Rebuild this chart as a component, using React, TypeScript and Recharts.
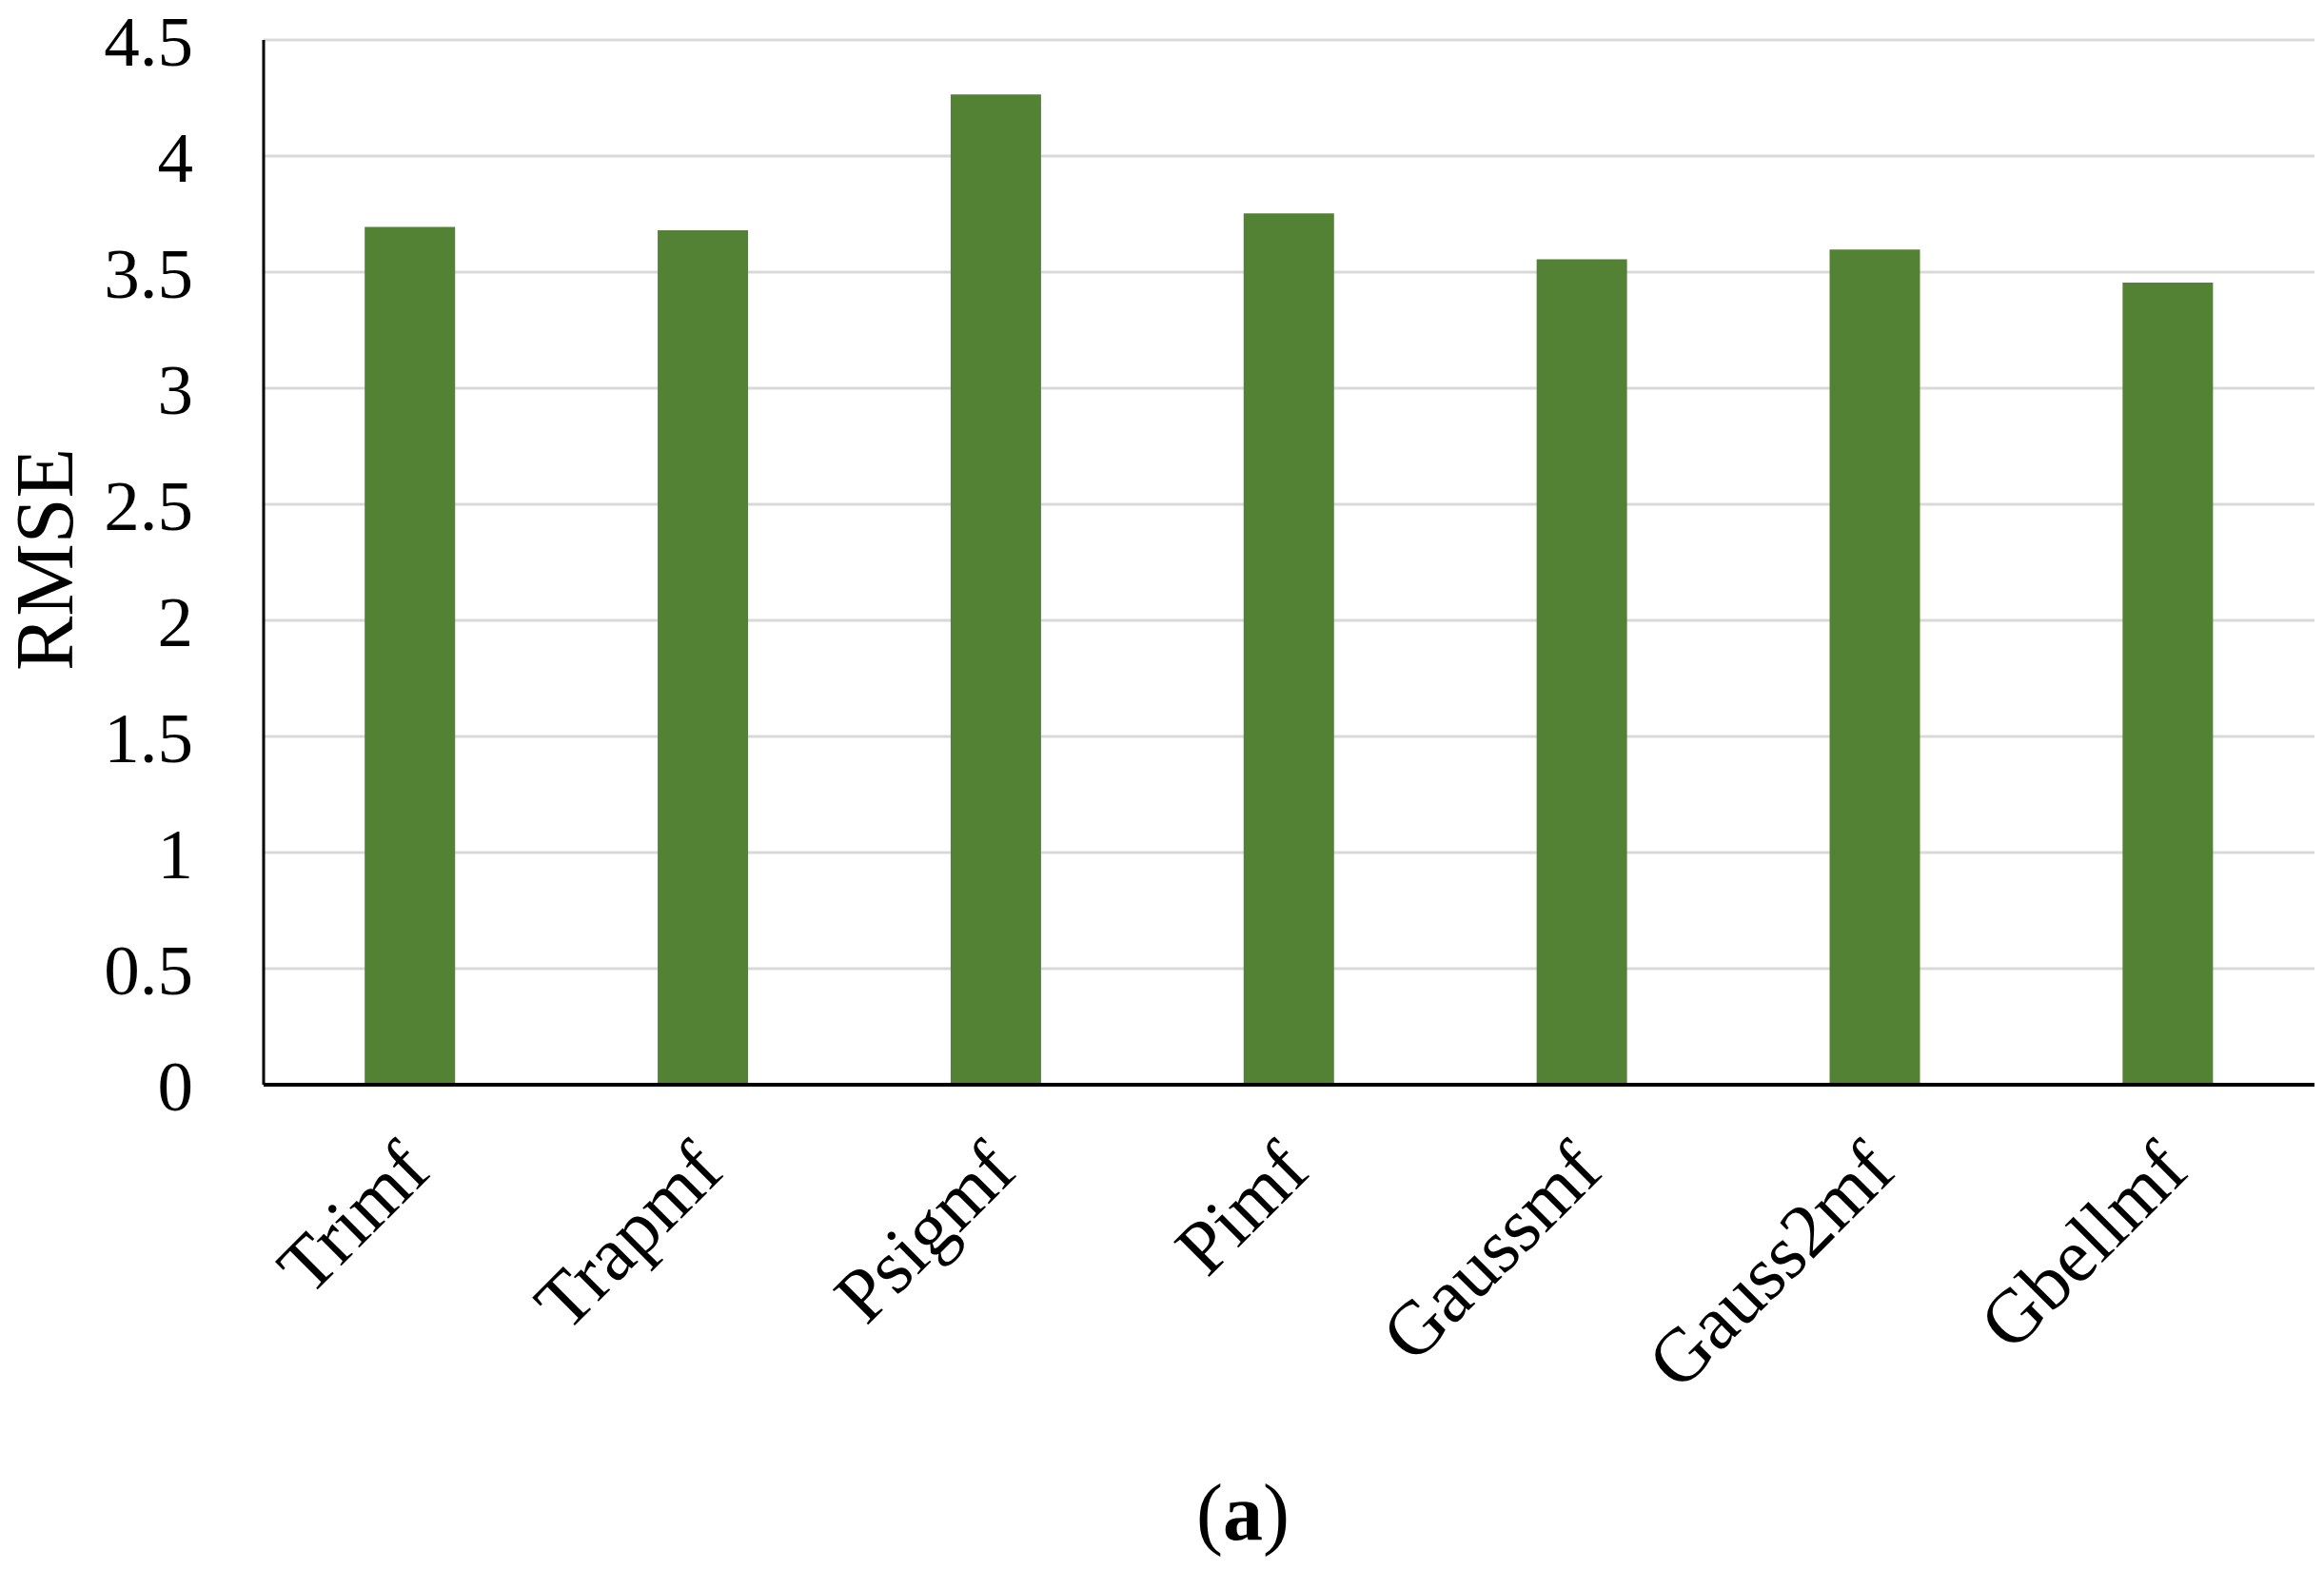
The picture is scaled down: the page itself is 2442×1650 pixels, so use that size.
import { BarChart, Bar, XAxis, YAxis, CartesianGrid } from "recharts";

const categories = ["Trimf", "Trapmf", "Psigmf", "Pimf", "Gaussmf", "Gauss2mf", "Gbellmf"];
const rmse = [3.695, 3.68, 4.265, 3.753, 3.555, 3.597, 3.455];
const yTicks = [0, 0.5, 1, 1.5, 2, 2.5, 3, 3.5, 4, 4.5];

const data = categories.map((name, i) => ({ name, rmse: rmse[i] }));

const FONT = "'Liberation Serif', 'Times New Roman', serif";

if (typeof document !== "undefined") {
  document.body.style.margin = "0";
}

function XTick(props: any) {
  const { x, y, payload } = props;
  return (
    <g transform={`translate(${x + 24},${y + 94})`}>
      <text
        x={0}
        y={0}
        textAnchor="end"
        transform="rotate(-45)"
        fontFamily={FONT}
        fontSize={80}
        fill="#000"
      >
        {payload.value}
      </text>
    </g>
  );
}

export default function App() {
  return (
    <div style={{ width: 2442, height: 1650, background: "#fff" }}>
      <BarChart
        width={2442}
        height={1650}
        data={data}
        margin={{ top: 42, right: 10, left: 0, bottom: 0 }}
        barCategoryGap="34.5%"
      >
        <CartesianGrid vertical={false} stroke="#d9d9d9" strokeWidth={3} />
        <XAxis
          dataKey="name"
          height={510}
          axisLine={{ stroke: "#000", strokeWidth: 4 }}
          tickLine={false}
          tickSize={0}
          tickMargin={0}
          interval={0}
          tick={<XTick />}
          label={{
            content: () => (
              <text
                x={1306}
                y={1618}
                textAnchor="middle"
                fontFamily={FONT}
                fontSize={84}
                fill="#000"
              >
                (<tspan fontWeight="bold">a</tspan>)
              </text>
            ),
          }}
        />
        <YAxis
          width={277}
          domain={[0, 4.5]}
          ticks={yTicks}
          interval={0}
          axisLine={{ stroke: "#000", strokeWidth: 3 }}
          tickLine={false}
          tickSize={0}
          tickMargin={74}
          tick={{ fontFamily: FONT, fontSize: 75, fill: "#000" }}
          label={{
            content: () => (
              <text
                x={76}
                y={588}
                textAnchor="middle"
                transform="rotate(-90 76 588)"
                fontFamily={FONT}
                fontSize={86}
                fill="#000"
              >
                RMSE
              </text>
            ),
          }}
        />
        <Bar dataKey="rmse" fill="#548235" isAnimationActive={false} />
      </BarChart>
    </div>
  );
}
